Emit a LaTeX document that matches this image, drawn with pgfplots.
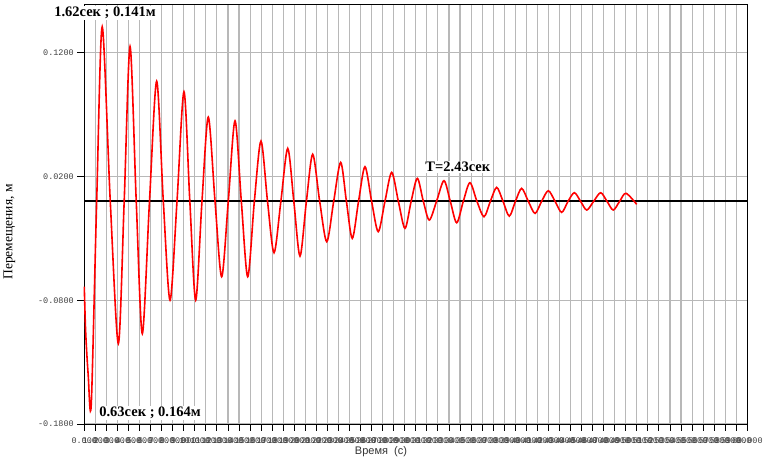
\documentclass[border=0pt]{standalone}
\usepackage{fontspec}
\setmainfont{Liberation Serif}
\newfontfamily\monofont{Liberation Mono}
\newfontfamily\sansfont{Liberation Sans}
\usepackage{pgfplots}
\pgfplotsset{compat=1.18}
\begin{document}
\begin{tikzpicture}[x=1pt,y=1pt]
\path[use as bounding box] (0,0) rectangle (768,462);
\begin{axis}[
  at={(84.3pt,38pt)}, anchor=south west,
  scale only axis, width=663pt, height=420pt,
  xmin=0, xmax=60, ymin=-0.18, ymax=0.1594,
  xtick={0,1,...,60}, ytick={-0.18,-0.08,0.02,0.12},
  grid=major, grid style={draw=black!28, line width=1.1pt},
  axis line style={black, line width=0.9pt},
  tick align=outside, tick pos=left, major tick length=7pt,
  tick style={black, line width=0.9pt},
  xticklabel={\pgfmathprintnumber[fixed,fixed zerofill,precision=3,assume math mode=true]{\tick}},
  yticklabel={\pgfmathprintnumber[fixed,fixed zerofill,precision=4,assume math mode=true]{\tick}},
  ticklabel style={font=\monofont\fontsize{8.5}{8.5}\selectfont, text=black!75},
  x tick label style={yshift=-3pt},
  clip=false,
]
\addplot[black, line width=1.8pt, forget plot] coordinates {(0,0) (60,0)};
\addplot[red, line width=1.6pt, smooth] coordinates {
(0,-0.069) (0.12,-0.105) (0.35,-0.14) (0.63,-0.164) (1.12,0) (1.62,0.141)
(2.35,0) (3.08,-0.115) (3.61,0) (4.14,0.125) (4.70,0) (5.25,-0.107)
(5.90,0) (6.55,0.097) (7.15,0) (7.76,-0.080) (8.39,0) (9.02,0.0885)
(9.55,0) (10.08,-0.080) (10.65,0) (11.22,0.068) (11.83,0) (12.43,-0.061)
(13.03,0) (13.64,0.065) (14.21,0) (14.79,-0.061) (15.39,0) (15.99,0.0486)
(16.58,0) (17.17,-0.0416) (17.79,0) (18.41,0.0427) (18.96,0) (19.52,-0.0443)
(20.10,0) (20.67,0.0379) (21.30,0) (21.94,-0.0327) (22.57,0) (23.2,0.0314)
(23.72,0) (24.25,-0.030) (24.82,0) (25.4,0.0279) (26.0,0) (26.6,-0.0246)
(27.21,0) (27.82,0.0233) (28.42,0) (29.02,-0.0219) (29.58,0) (30.14,0.0185)
(30.68,0) (31.22,-0.0152) (31.88,0) (32.55,0.0166) (33.12,0) (33.7,-0.0174)
(34.3,0) (34.9,0.015) (35.53,0) (36.17,-0.0125) (36.75,0) (37.32,0.0112)
(37.89,0) (38.46,-0.012) (39.02,0) (39.58,0.0104) (40.18,0) (40.79,-0.0098)
(41.39,0) (41.99,0.0085) (42.6,0) (43.2,-0.009) (43.78,0) (44.35,0.0069)
(44.91,0) (45.47,-0.0071) (46.1,0) (46.73,0.0069) (47.3,0) (47.87,-0.0071)
(48.45,0) (49.02,0.0064) (49.99,-0.0025)
};
\node[fill=white, inner sep=1pt, font=\bfseries\fontsize{14.5}{14.5}\selectfont] at (axis cs:1.87,0.152) {1.62сек ; 0.141м};
\node[fill=white, inner sep=1pt, font=\bfseries\fontsize{14.5}{14.5}\selectfont] at (axis cs:5.95,-0.171) {0.63сек ; 0.164м};
\node[fill=white, inner sep=1pt, font=\bfseries\fontsize{14.5}{14.5}\selectfont] at (axis cs:33.8,0.0276) {T=2.43сек};
\end{axis}
\node[font=\sansfont\fontsize{11}{11}\selectfont, text=black!80] at (381,10) {Время\ \ (с)};
\node[rotate=90, font=\fontsize{13.5}{13.5}\selectfont] at (9.5,230) {Перемещения, м};
\end{tikzpicture}
\end{document}
